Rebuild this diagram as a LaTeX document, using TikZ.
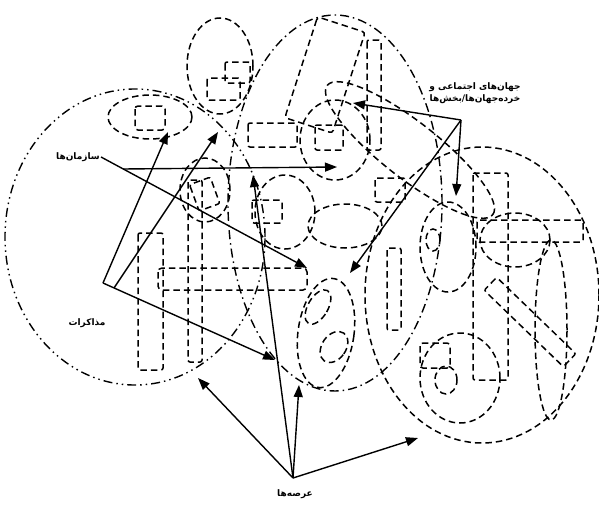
\documentclass[tikz,border=0pt]{standalone}
\usepackage{fontspec}
\usetikzlibrary{arrows.meta}
\newfontfamily\farsifont[Script=Arabic]{DejaVu Sans}
\TeXXeTstate=1

\tikzset{
  world/.style={draw, line width=1.5pt, dash pattern=on 6.5pt off 4pt},
  arena/.style={draw, line width=1.4pt, dash pattern=on 9pt off 4pt on 1.5pt off 4pt},
  talks/.style={draw, line width=1.4pt, dash pattern=on 9pt off 4pt on 1.5pt off 4pt on 1.5pt off 4pt},
  pointer/.style={-{Triangle[length=12pt,width=9pt]}, line width=1.4pt},
  farsi/.style={font=\farsifont\bfseries\fontsize{9}{12}\selectfont, inner sep=1pt}
}

\begin{document}
\begin{tikzpicture}[x=1pt, y=-1pt]

    \useasboundingbox (0,0) rectangle (599,506);

    % Negotiations circle and what sits in it
    \draw[talks] (135,237) ellipse [x radius=130pt, y radius=148pt];
    \draw[world] (150,117) ellipse [x radius=42pt, y radius=22pt];
    \draw[world, rounded corners=3pt] (135,106) rectangle (165,130);
    \draw[world] (205,190) ellipse [x radius=25pt, y radius=32pt];
    \draw[world, rounded corners=2pt, rotate around={20:(205,195)}] (194,180) rectangle (216,208);
    \draw[world, rounded corners=2pt] (138,233) rectangle (163,370);
    \draw[world, rounded corners=2pt] (188,180) rectangle (202,362);
    \draw[world, rounded corners=4pt] (158,268) rectangle (307,290);

    % Top worlds
    \draw[world] (220,66) ellipse [x radius=33pt, y radius=48pt];
    \draw[world, rounded corners=2pt] (225,62) rectangle (250,83);
    \draw[world, rounded corners=2pt] (207,78) rectangle (240,100);
    \draw[world, rounded corners=3pt, rotate around={-18:(325,75)}] (300,22) rectangle (350,128);
    \draw[world, rounded corners=2pt] (367,40) rectangle (381,150);
    \draw[world] (335,140) ellipse [x radius=35pt, y radius=40pt];
    \draw[world, rotate around={-38:(410,150)}] (410,150) ellipse [x radius=105pt, y radius=28pt];

    % Middle arena
    \draw[arena] (335,203) ellipse [x radius=107pt, y radius=188pt];
    \draw[world, rounded corners=2pt] (248,123) rectangle (297,147);
    \draw[world, rounded corners=2pt] (315,125) rectangle (343,150);
    \draw[world] (345,226) ellipse [x radius=37pt, y radius=22pt];
    \draw[world] (285,212) ellipse [x radius=30pt, y radius=37pt];
    \draw[world, rounded corners=2pt] (252,200) rectangle (282,223);
    \draw[world, rounded corners=2pt] (375,178) rectangle (405,202);
    \draw[world, rounded corners=2pt] (387,248) rectangle (401,330);
    \draw[world, rotate around={-8:(326,333)}] (326,333) ellipse [x radius=28pt, y radius=55pt];
    \draw[world, rotate around={-30:(318,307)}] (318,307) ellipse [x radius=10pt, y radius=19pt];
    \draw[world, rotate around={-35:(334,347)}] (334,347) ellipse [x radius=12pt, y radius=17pt];

    % Right world
    \draw[world] (482,295) ellipse [x radius=117pt, y radius=148pt];
    \draw[world] (448,247) ellipse [x radius=28pt, y radius=45pt];
    \draw[world] (433,240) ellipse [x radius=7pt, y radius=11pt];
    \draw[world, rounded corners=2pt] (473,173) rectangle (508,380);
    \draw[world, rounded corners=2pt] (477,220) rectangle (583,242);
    \draw[world] (515,240) ellipse [x radius=35pt, y radius=27pt];
    \draw[world] (460,378) ellipse [x radius=40pt, y radius=45pt];
    \draw[world, rounded corners=3pt] (420,343) rectangle (450,368);
    \draw[world] (446,380) ellipse [x radius=11pt, y radius=14pt];
    \draw[world] (551,330) ellipse [x radius=16pt, y radius=90pt];
    \draw[world, rounded corners=2pt, rotate around={-44:(530,322)}] (475,313) rectangle (585,331);

    % Labels
    \node[farsi] (orgs) at (78,157) {\beginR سازمان‌ها\endR};
    \node[farsi, align=center] (worlds) at (475,93) {\beginR جهان‌های اجتماعی و\endR\\ \beginR خرده‌جهان‌ها/بخش‌ها\endR};
    \node[farsi] (talk) at (87,323) {\beginR مذاکرات\endR};
    \node[farsi] (arenas) at (295,494) {\beginR عرصه‌ها\endR};

    % Hubs the pointers leave from
    \coordinate (orgsfork) at (123,169);
    \coordinate (worldhub) at (461,120);
    \coordinate (talkhub) at (103,283);
    \coordinate (talkfork) at (114,288);
    \coordinate (arenahub) at (293,478);

    % Where the pointers land
    \coordinate (o1) at (307,268);
    \coordinate (o2) at (337,167);
    \coordinate (w1) at (353,103);
    \coordinate (w2) at (456,196);
    \coordinate (w3) at (350,273);
    \coordinate (n1) at (168,132);
    \coordinate (n2) at (218,132);
    \coordinate (n3) at (275,360);
    \coordinate (a1) at (198,378);
    \coordinate (a2) at (299,385);
    \coordinate (a3) at (253,175);
    \coordinate (a4) at (418,438);

    % Pointers
    \draw[pointer] (orgs.east) -- (o1);
    \draw[pointer] (orgsfork) -- (o2);
    \draw[pointer] (worldhub) -- (w1);
    \draw[pointer] (worldhub) -- (w2);
    \draw[pointer] (worldhub) -- (w3);
    \draw[pointer] (talkhub) -- (n1);
    \draw[pointer] (talkfork) -- (n2);
    \draw[pointer] (talkhub) -- (n3);
    \draw[pointer] (arenahub) -- (a1);
    \draw[pointer] (arenahub) -- (a2);
    \draw[pointer] (arenahub) -- (a3);
    \draw[pointer] (arenahub) -- (a4);

\end{tikzpicture}
\end{document}
